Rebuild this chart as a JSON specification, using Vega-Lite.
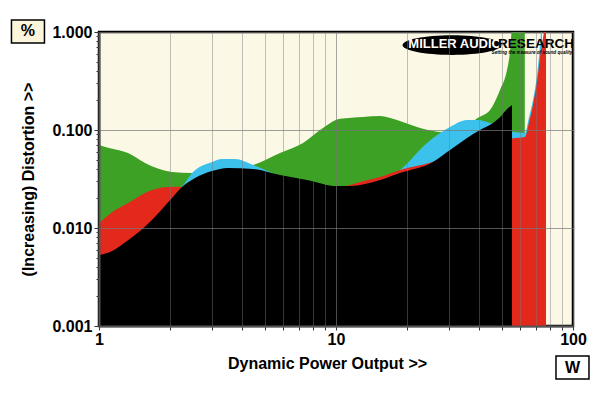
{
  "$schema": "https://vega.github.io/schema/vega-lite/v6.json",
  "width": 474,
  "height": 294,
  "autosize": {"type": "none"},
  "padding": {"left": 99, "top": 32, "right": 27, "bottom": 67},
  "background": "#ffffff",
  "config": {
    "view": {"fill": "#fcf8e6", "stroke": "#000000", "strokeWidth": 2.5},
    "font": "Liberation Sans"
  },
  "datasets": {
    "curves": [
      {"s": "1ohm", "w": 1.0, "d": 0.0703},
      {"s": "1ohm", "w": 1.113, "d": 0.065},
      {"s": "1ohm", "w": 1.326, "d": 0.0582},
      {"s": "1ohm", "w": 1.564, "d": 0.0461},
      {"s": "1ohm", "w": 2.032, "d": 0.0373},
      {"s": "1ohm", "w": 2.469, "d": 0.0364},
      {"s": "1ohm", "w": 2.999, "d": 0.0385},
      {"s": "1ohm", "w": 3.749, "d": 0.041},
      {"s": "1ohm", "w": 4.465, "d": 0.044},
      {"s": "1ohm", "w": 5.803, "d": 0.0582},
      {"s": "1ohm", "w": 7.258, "d": 0.0737},
      {"s": "1ohm", "w": 8.812, "d": 0.1048},
      {"s": "1ohm", "w": 10.4, "d": 0.13},
      {"s": "1ohm", "w": 13.0, "d": 0.136},
      {"s": "1ohm", "w": 15.34, "d": 0.139},
      {"s": "1ohm", "w": 18.09, "d": 0.1265},
      {"s": "1ohm", "w": 21.97, "d": 0.1073},
      {"s": "1ohm", "w": 25.66, "d": 0.0977},
      {"s": "1ohm", "w": 28.02, "d": 0.0954},
      {"s": "1ohm", "w": 30.27, "d": 0.0977},
      {"s": "1ohm", "w": 35.71, "d": 0.11},
      {"s": "1ohm", "w": 39.73, "d": 0.133},
      {"s": "1ohm", "w": 44.66, "d": 0.16},
      {"s": "1ohm", "w": 49.2, "d": 0.256},
      {"s": "1ohm", "w": 52.67, "d": 0.41},
      {"s": "1ohm", "w": 54.23, "d": 0.625},
      {"s": "1ohm", "w": 55.83, "d": 1.4},
      {"s": "1ohm", "w": 62.6, "d": 1.4},

      {"s": "2ohm", "w": 1.0, "d": 0.0085},
      {"s": "2ohm", "w": 1.326, "d": 0.0136},
      {"s": "2ohm", "w": 1.808, "d": 0.021},
      {"s": "2ohm", "w": 2.24, "d": 0.0266},
      {"s": "2ohm", "w": 2.469, "d": 0.0364},
      {"s": "2ohm", "w": 2.999, "d": 0.0472},
      {"s": "2ohm", "w": 3.304, "d": 0.0506},
      {"s": "2ohm", "w": 3.749, "d": 0.0506},
      {"s": "2ohm", "w": 4.465, "d": 0.044},
      {"s": "2ohm", "w": 5.803, "d": 0.034},
      {"s": "2ohm", "w": 7.545, "d": 0.03},
      {"s": "2ohm", "w": 10.1, "d": 0.026},
      {"s": "2ohm", "w": 11.46, "d": 0.0262},
      {"s": "2ohm", "w": 15.34, "d": 0.03},
      {"s": "2ohm", "w": 18.62, "d": 0.0391},
      {"s": "2ohm", "w": 24.21, "d": 0.0737},
      {"s": "2ohm", "w": 30.27, "d": 0.1073},
      {"s": "2ohm", "w": 35.71, "d": 0.1265},
      {"s": "2ohm", "w": 39.73, "d": 0.1265},
      {"s": "2ohm", "w": 44.66, "d": 0.118},
      {"s": "2ohm", "w": 49.2, "d": 0.112},
      {"s": "2ohm", "w": 55.29, "d": 0.096},
      {"s": "2ohm", "w": 62.73, "d": 0.094},
      {"s": "2ohm", "w": 65.23, "d": 0.136},
      {"s": "2ohm", "w": 67.8, "d": 0.202},
      {"s": "2ohm", "w": 70.5, "d": 0.364},
      {"s": "2ohm", "w": 73.28, "d": 1.0},
      {"s": "2ohm", "w": 74.0, "d": 1.4},

      {"s": "4ohm", "w": 1.0, "d": 0.0112},
      {"s": "4ohm", "w": 1.113, "d": 0.014},
      {"s": "4ohm", "w": 1.326, "d": 0.018},
      {"s": "4ohm", "w": 1.673, "d": 0.0244},
      {"s": "4ohm", "w": 2.032, "d": 0.0264},
      {"s": "4ohm", "w": 2.24, "d": 0.0262},
      {"s": "4ohm", "w": 2.999, "d": 0.0244},
      {"s": "4ohm", "w": 4.465, "d": 0.025},
      {"s": "4ohm", "w": 5.803, "d": 0.0256},
      {"s": "4ohm", "w": 7.545, "d": 0.0252},
      {"s": "4ohm", "w": 10.1, "d": 0.0258},
      {"s": "4ohm", "w": 11.46, "d": 0.0275},
      {"s": "4ohm", "w": 12.63, "d": 0.0295},
      {"s": "4ohm", "w": 15.34, "d": 0.0331},
      {"s": "4ohm", "w": 18.62, "d": 0.0391},
      {"s": "4ohm", "w": 25.66, "d": 0.0475},
      {"s": "4ohm", "w": 30.27, "d": 0.0556},
      {"s": "4ohm", "w": 40.51, "d": 0.0671},
      {"s": "4ohm", "w": 49.2, "d": 0.074},
      {"s": "4ohm", "w": 55.29, "d": 0.082},
      {"s": "4ohm", "w": 62.73, "d": 0.0848},
      {"s": "4ohm", "w": 65.23, "d": 0.12},
      {"s": "4ohm", "w": 67.8, "d": 0.18},
      {"s": "4ohm", "w": 70.5, "d": 0.31},
      {"s": "4ohm", "w": 73.28, "d": 0.655},
      {"s": "4ohm", "w": 75.44, "d": 1.0},
      {"s": "4ohm", "w": 76.93, "d": 1.4},

      {"s": "8ohm", "w": 1.0, "d": 0.0053},
      {"s": "8ohm", "w": 1.113, "d": 0.0057},
      {"s": "8ohm", "w": 1.326, "d": 0.0075},
      {"s": "8ohm", "w": 1.673, "d": 0.0121},
      {"s": "8ohm", "w": 2.032, "d": 0.0202},
      {"s": "8ohm", "w": 2.24, "d": 0.0262},
      {"s": "8ohm", "w": 2.542, "d": 0.0324},
      {"s": "8ohm", "w": 2.999, "d": 0.0382},
      {"s": "8ohm", "w": 3.502, "d": 0.041},
      {"s": "8ohm", "w": 4.465, "d": 0.04},
      {"s": "8ohm", "w": 5.803, "d": 0.0347},
      {"s": "8ohm", "w": 7.545, "d": 0.0309},
      {"s": "8ohm", "w": 10.1, "d": 0.0268},
      {"s": "8ohm", "w": 11.46, "d": 0.0268},
      {"s": "8ohm", "w": 15.34, "d": 0.0309},
      {"s": "8ohm", "w": 18.62, "d": 0.0364},
      {"s": "8ohm", "w": 25.66, "d": 0.0472},
      {"s": "8ohm", "w": 30.27, "d": 0.0625},
      {"s": "8ohm", "w": 35.71, "d": 0.0829},
      {"s": "8ohm", "w": 40.51, "d": 0.1},
      {"s": "8ohm", "w": 45.97, "d": 0.118},
      {"s": "8ohm", "w": 49.2, "d": 0.135},
      {"s": "8ohm", "w": 52.67, "d": 0.164},
      {"s": "8ohm", "w": 55.29, "d": 0.18}
    ]
  },
  "layer": [
    {
      "data": {"name": "curves"},
      "transform": [{"filter": "datum.s == '1ohm'"}],
      "mark": {"type": "area", "clip": true, "interpolate": "monotone"},
      "encoding": {
        "x": {
          "field": "w", "type": "quantitative",
          "scale": {"type": "log", "domain": [1, 100]},
          "axis": {
            "values": [1, 2, 3, 4, 5, 6, 7, 8, 9, 10, 20, 30, 40, 50, 60, 70, 80, 90, 100],
            "labelExpr": "abs(log(datum.value)/LN10 - round(log(datum.value)/LN10)) < 0.01 ? format(datum.value, 'd') : ''",
            "labelFont": "Liberation Sans", "labelFontWeight": "bold", "labelFontSize": 16, "labelColor": "#000000",
            "labelPadding": 1, "labelFlush": false, "labelBound": false, "labelOverlap": false,
            "tickSize": 4, "tickColor": "#333333", "tickWidth": 1,
            "domainColor": "#555555", "domainWidth": 2,
            "grid": true, "gridColor": "#777777",
            "gridOpacity": {"condition": {"test": "abs(log(datum.value)/LN10 - round(log(datum.value)/LN10)) < 0.01", "value": 0.65}, "value": 0.45},
            "title": "Dynamic Power Output >>",
            "titleFont": "Liberation Sans", "titleFontWeight": "bold", "titleFontSize": 16, "titleColor": "#000000",
            "titleX": 228, "titleY": 37, "titleAlign": "center", "titleBaseline": "middle",
            "zindex": 1
          }
        },
        "y": {
          "field": "d", "type": "quantitative",
          "scale": {"type": "log", "domain": [0.001, 1]},
          "axis": {
            "values": [0.001, 0.002, 0.003, 0.004, 0.005, 0.006, 0.007, 0.008, 0.009, 0.01, 0.02, 0.03, 0.04, 0.05, 0.06, 0.07, 0.08, 0.09, 0.1, 0.2, 0.3, 0.4, 0.5, 0.6, 0.7, 0.8, 0.9, 1],
            "labelExpr": "abs(log(datum.value)/LN10 - round(log(datum.value)/LN10)) < 0.01 ? format(datum.value, '.3f') : ''",
            "labelFont": "Liberation Sans", "labelFontWeight": "bold", "labelFontSize": 16, "labelColor": "#000000",
            "labelPadding": 2, "labelOverlap": false, "labelBound": false, "labelFlush": false,
            "tickSize": {"condition": {"test": "abs(log(datum.value)/LN10 - round(log(datum.value)/LN10)) < 0.01", "value": 5}, "value": 3},
            "tickColor": "#333333", "tickWidth": 1,
            "domainColor": "#555555", "domainWidth": 2,
            "grid": true, "gridColor": "#777777",
            "gridOpacity": {"condition": {"test": "abs(log(datum.value)/LN10 - round(log(datum.value)/LN10)) < 0.01", "value": 0.7}, "value": 0},
            "title": "(Increasing) Distortion >>",
            "titleFont": "Liberation Sans", "titleFontWeight": "bold", "titleFontSize": 16, "titleColor": "#000000",
            "titleAngle": 270, "titleX": -71, "titleY": 147, "titleAlign": "center", "titleBaseline": "middle",
            "zindex": 1
          }
        },
        "y2": {"datum": 0.001},
        "color": {
          "field": "s", "type": "nominal",
          "scale": {"domain": ["1ohm", "2ohm", "4ohm", "8ohm"], "range": ["#3da126", "#3cc1ec", "#e2291b", "#000000"]},
          "legend": null
        }
      }
    },
    {
      "data": {"name": "curves"},
      "transform": [{"filter": "datum.s == '2ohm'"}],
      "mark": {"type": "area", "clip": true, "interpolate": "monotone"},
      "encoding": {
        "x": {"field": "w", "type": "quantitative"},
        "y": {"field": "d", "type": "quantitative"},
        "y2": {"datum": 0.001},
        "color": {"field": "s", "type": "nominal", "legend": null}
      }
    },
    {
      "data": {"name": "curves"},
      "transform": [{"filter": "datum.s == '4ohm'"}],
      "mark": {"type": "area", "clip": true, "interpolate": "monotone"},
      "encoding": {
        "x": {"field": "w", "type": "quantitative"},
        "y": {"field": "d", "type": "quantitative"},
        "y2": {"datum": 0.001},
        "color": {"field": "s", "type": "nominal", "legend": null}
      }
    },
    {
      "data": {"name": "curves"},
      "transform": [{"filter": "datum.s == '8ohm'"}],
      "mark": {"type": "area", "clip": true, "interpolate": "monotone"},
      "encoding": {
        "x": {"field": "w", "type": "quantitative"},
        "y": {"field": "d", "type": "quantitative"},
        "y2": {"datum": 0.001},
        "color": {"field": "s", "type": "nominal", "legend": null}
      }
    },
    {
      "data": {"values": [{"label": "%"}]},
      "mark": {"type": "point", "shape": "M-1,-0.7H1V0.7H-1Z", "filled": true, "fill": "#fbf5dc", "stroke": "#000000", "strokeWidth": 1.5, "size": 1089, "opacity": 1},
      "encoding": {
        "x": {"datum": 0.5015, "type": "quantitative"},
        "y": {"datum": 1.012, "type": "quantitative"}
      }
    },
    {
      "data": {"values": [{"label": "%"}]},
      "mark": {"type": "text", "font": "Liberation Sans", "fontWeight": "bold", "fontSize": 16, "align": "center", "baseline": "middle", "fill": "#000000"},
      "encoding": {
        "x": {"datum": 0.5015, "type": "quantitative"},
        "y": {"datum": 1.012, "type": "quantitative"},
        "text": {"field": "label"}
      }
    },
    {
      "data": {"values": [{"label": "W"}]},
      "mark": {"type": "point", "shape": "M-1,-0.7H1V0.7H-1Z", "filled": true, "fill": "#ffffff", "stroke": "#000000", "strokeWidth": 1.5, "size": 1089, "opacity": 1},
      "encoding": {
        "x": {"datum": 99.5, "type": "quantitative"},
        "y": {"datum": 0.000377, "type": "quantitative"}
      }
    },
    {
      "data": {"values": [{"label": "W"}]},
      "mark": {"type": "text", "font": "Liberation Sans", "fontWeight": "bold", "fontSize": 16, "align": "center", "baseline": "middle", "fill": "#000000"},
      "encoding": {
        "x": {"datum": 99.5, "type": "quantitative"},
        "y": {"datum": 0.000377, "type": "quantitative"},
        "text": {"field": "label"}
      }
    },
    {
      "data": {"values": [{"label": "logo"}]},
      "mark": {"type": "point", "shape": "M-1,0A1,0.2,0,1,0,1,0A1,0.2,0,1,0,-1,0Z", "filled": true, "fill": "#000000", "size": 9801, "opacity": 1, "strokeWidth": 0},
      "encoding": {
        "x": {"datum": 30.86, "type": "quantitative"},
        "y": {"datum": 0.736, "type": "quantitative"}
      }
    },
    {
      "data": {"values": [{"label": "MILLER AUDIO"}]},
      "mark": {"type": "text", "font": "Liberation Sans", "fontWeight": "bold", "fontSize": 13, "align": "center", "baseline": "middle", "fill": "#ffffff"},
      "encoding": {
        "x": {"datum": 31.78, "type": "quantitative"},
        "y": {"datum": 0.754, "type": "quantitative"},
        "text": {"field": "label"}
      }
    },
    {
      "data": {"values": [{"label": "RESEARCH"}]},
      "mark": {"type": "text", "font": "Liberation Sans", "fontWeight": "bold", "fontSize": 13.5, "align": "center", "baseline": "middle", "fill": "#000000"},
      "encoding": {
        "x": {"datum": 69.8, "type": "quantitative"},
        "y": {"datum": 0.754, "type": "quantitative"},
        "text": {"field": "label"}
      }
    },
    {
      "data": {"values": [{"label": "Setting the measure of sound quality"}]},
      "mark": {"type": "text", "font": "Liberation Sans", "fontWeight": "bold", "fontStyle": "italic", "fontSize": 4.6, "align": "center", "baseline": "middle", "fill": "#000000"},
      "encoding": {
        "x": {"datum": 67.1, "type": "quantitative"},
        "y": {"datum": 0.6105, "type": "quantitative"},
        "text": {"field": "label"}
      }
    }
  ]
}
